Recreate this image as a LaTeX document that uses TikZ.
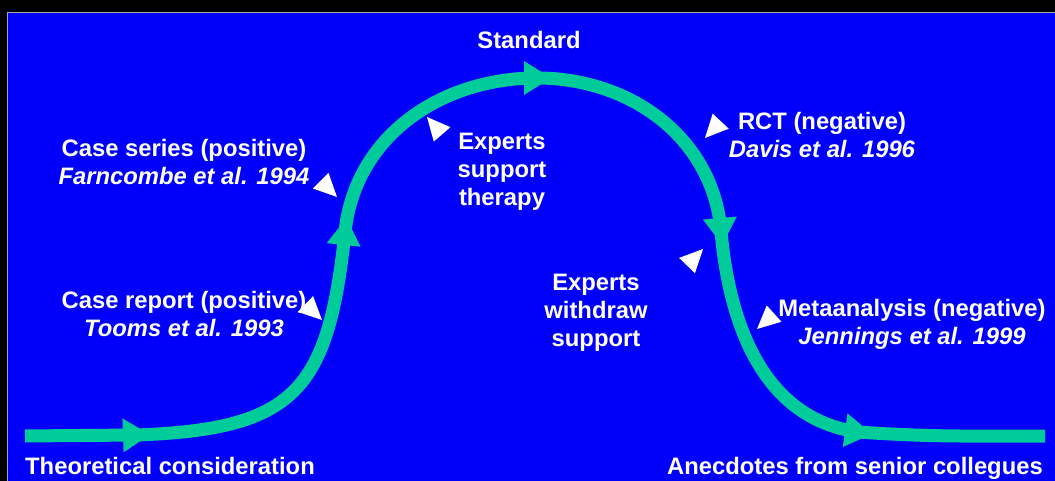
\documentclass[tikz,border=0pt]{standalone}
\usepackage{fontspec}
\setmainfont{Liberation Sans}
\definecolor{slideblue}{RGB}{0,0,250}
\definecolor{curvegreen}{RGB}{0,204,153}
\tikzset{
	caption/.style = {text = white, font = \bfseries\fontsize{23.8}{28}\selectfont, align = center, inner sep = 0pt},
	flow/.style = {draw = curvegreen, line width = 13pt},
	flowtip/.pic = {\fill [curvegreen] (-13, -17) -- (14, 0) -- (-13, 17) -- cycle;},
	pointer/.pic = {\fill [white] (0, 0) -- (-23, -11) -- (-23, 11) -- cycle;}
}
\begin{document}
\begin{tikzpicture}[x = 1pt, y = 1pt]
	\useasboundingbox (0, 0) rectangle (1055, -481);
	\fill [black] (0, 0) rectangle (1055, -481);
	\fill [slideblue] (7, -12) rectangle (1055, -481);
	\draw [gray!70, line width = 1pt] (7.5, -481) -- (7.5, -12.5) -- (1055, -12.5);

	\coordinate (s) at (25, -436);
	\coordinate (t1) at (136, -435);
	\coordinate (t2) at (345, -232);
	\coordinate (t3) at (537, -78);
	\coordinate (t4) at (721, -231);
	\coordinate (t5) at (858, -432);
	\coordinate (e) at (1045, -436);

	\draw [flow] (s) -- (t1) to [out = 2, in = -96, looseness = 1.4] (t2)
		to [out = 84, in = 180] (t3) to [out = 0, in = 95] (t4)
		to [out = -85, in = 172] (t5) to [out = -4, in = 180] (e);

	\pic [rotate = 2] at (t1) {flowtip};
	\pic [rotate = 84] at (t2) {flowtip};
	\pic [rotate = 0] at (t3) {flowtip};
	\pic [rotate = -85] at (t4) {flowtip};
	\pic [rotate = -8] at (t5) {flowtip};

	\node [caption, anchor = base west] (theory) at (25, -474) {Theoretical consideration};
	\node [caption, anchor = base east] (anecdotes) at (1043, -474) {Anecdotes from senior collegues};
	\node [caption] (standard) at (529, -40) {Standard};
	\node [caption] (casereport) at (184, -314) {Case report (positive)\\\textit{Tooms et al. 1993}};
	\node [caption] (caseseries) at (184, -162) {Case series (positive)\\\textit{Farncombe et al. 1994}};
	\node [caption] (support) at (502, -172) {Experts\\support\\therapy};
	\node [caption] (rct) at (822, -135) {RCT (negative)\\\textit{Davis et al. 1996}};
	\node [caption] (withdraw) at (596, -313) {Experts\\withdraw\\support};
	\node [caption] (meta) at (912, -324) {Metaanalysis (negative)\\\textit{Jennings et al. 1999}};

	\pic [rotate = -44] at (322, -320) {pointer};
	\pic [rotate = -45] at (337, -197) {pointer};
	\pic [rotate = 131] at (427, -117) {pointer};
	\pic [rotate = -133] at (705, -138) {pointer};
	\pic [rotate = 46] at (703, -249) {pointer};
	\pic [rotate = -138] at (757, -329) {pointer};
\end{tikzpicture}
\end{document}
